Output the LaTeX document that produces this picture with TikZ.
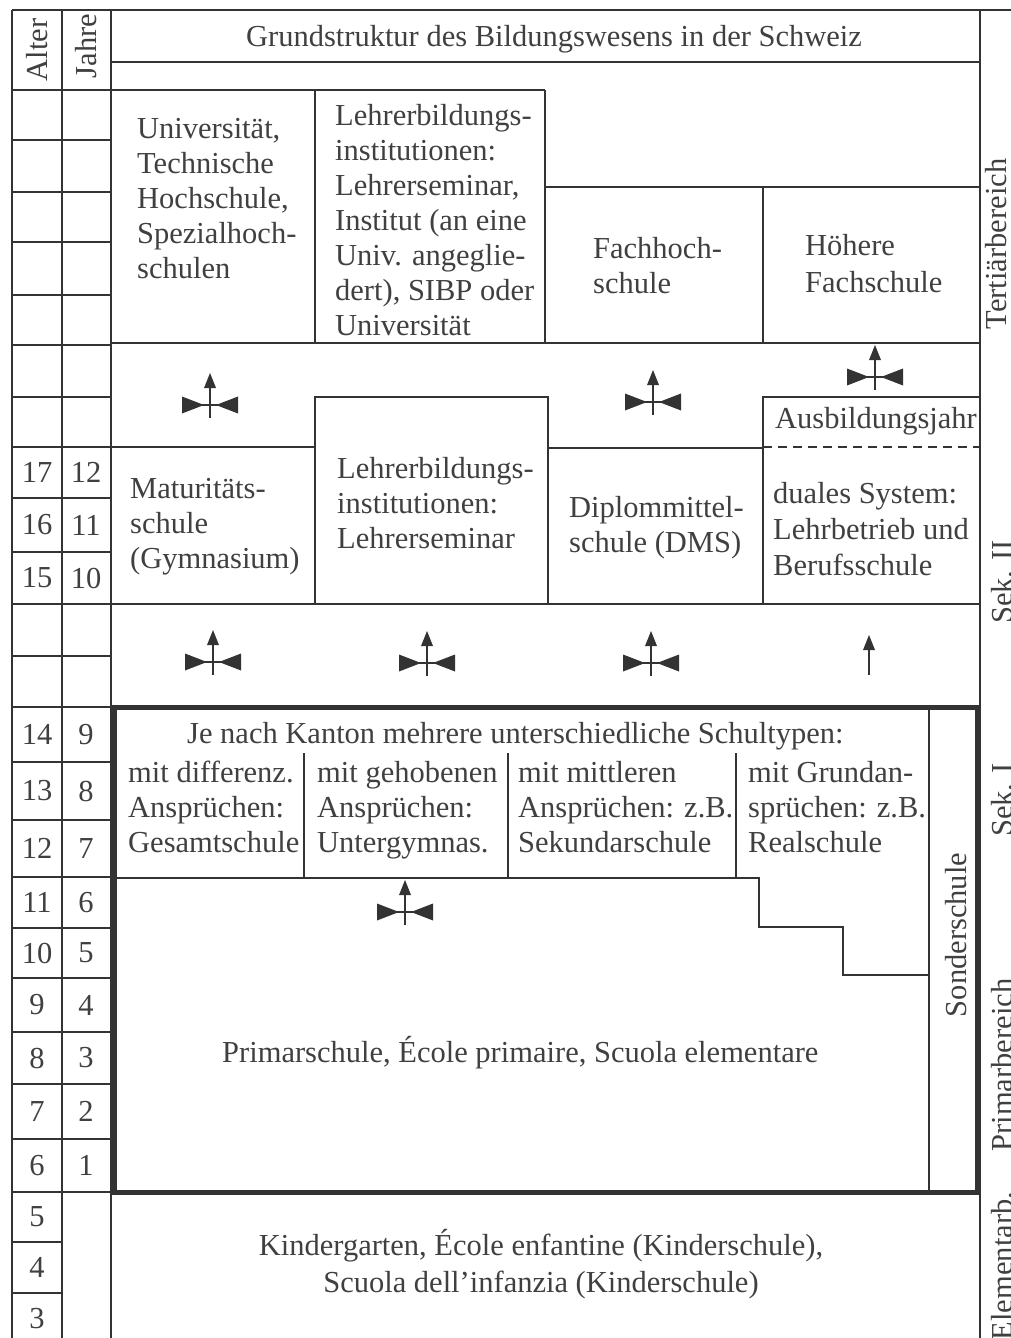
\documentclass[tikz,border=0pt]{standalone}
\usepackage{fontspec}
\setmainfont{Liberation Serif}
\definecolor{ink}{gray}{0.2}
\definecolor{print}{gray}{0.25}
% invisible strut that fixes the top of the first line in multi-line blocks
\newcommand\firstline{\rule{0pt}{28pt}}
\begin{document}
\begin{tikzpicture}[x=1pt,y=-1pt,
  gridline/.style={draw=ink, line width=1.4pt},
  heavy/.style={draw=ink, line width=5pt},
  txt/.style={font=\fontsize{30.5}{35}\selectfont, text=print, inner sep=0pt},
  block/.style={txt, align=left, anchor=north west},
  oneline/.style={txt, anchor=base west},
  num/.style={txt, anchor=center},
  vtxt/.style={txt, rotate=90, anchor=center},
  sidelabel/.style={txt, rotate=90, anchor=north},
  switchmark/.pic={
    \draw[ink, line width=1.4pt] (0,13) -- (0,-18);
    \fill[ink] (0,-32) -- (-6,-17) -- (6,-17) -- cycle;
    \fill[ink] (-28,-8.5) -- (-28,8.5) -- (-6,0) -- cycle;
    \fill[ink] (28,-8.5) -- (28,8.5) -- (6,0) -- cycle;
    \draw[ink, line width=1.4pt] (-8,0) -- (8,0);
  },
  arrowmark/.pic={
    \draw[ink, line width=1.4pt] (0,20) -- (0,-6);
    \fill[ink] (0,-20) -- (-6,-5) -- (6,-5) -- cycle;
  }
]
\fill[white] (0,0) rectangle (1011,1338);
\useasboundingbox (0,0) rectangle (1011,1338);

% ---- outer frame and the two year columns
\draw[gridline] (12,10) -- (1016,10);
\foreach \x in {12,62,111,980} \draw[gridline] (\x,10) -- (\x,1345);
\draw[gridline] (111,62) -- (980,62);
\draw[gridline] (12,90) -- (545,90);
\foreach \y in {140,192,242,295,345,397,447,498,552,604,656,707,762,820,877,928,978,1032,1084,1139,1192}
  \draw[gridline] (12,\y) -- (111,\y);
\foreach \y in {1242,1293} \draw[gridline] (12,\y) -- (62,\y);

% ---- tertiary level
\draw[gridline] (315,90) -- (315,343);
\draw[gridline] (545,90) -- (545,343);
\draw[gridline] (545,187) -- (980,187);
\draw[gridline] (763,187) -- (763,343);
\draw[gridline] (111,343) -- (980,343);

% ---- upper secondary level
\draw[gridline] (111,447) -- (315,447);
\draw[gridline] (315,604) -- (315,397) -- (548,397) -- (548,604);
\draw[gridline] (548,448) -- (763,448);
\draw[gridline] (763,604) -- (763,397) -- (980,397);
\draw[gridline, dash pattern=on 9pt off 6pt] (763,447) -- (980,447);
\draw[gridline] (111,604) -- (980,604);

% ---- compulsory school block
\draw[gridline] (929,707) -- (929,1192);
\foreach \x in {304,508,736} \draw[gridline] (\x,753) -- (\x,878);
\draw[gridline] (114,878) -- (759,878) -- (759,927) -- (843,927) -- (843,975) -- (929,975);
\draw[heavy] (114.5,707) rectangle (977,1192);

% ---- transition marks
\pic (t1) at (210,405) {switchmark};
\pic (t2) at (653,402) {switchmark};
\pic (t3) at (875,377) {switchmark};
\pic (s1) at (213,662) {switchmark};
\pic (s2) at (427,663) {switchmark};
\pic (s3) at (651,663) {switchmark};
\pic (s4) at (869,655) {arrowmark};
\pic (p1) at (405,912) {switchmark};

% ---- header
\node[txt, anchor=base] (title) at (554,47) {Grundstruktur des Bildungswesens in der Schweiz};
\node[vtxt] (alter) at (37,50) {Alter};
\node[vtxt] (jahre) at (86,46) {Jahre};

% ---- age and school-year numbers
\foreach \a/\t/\b in {17/447/498,16/498/552,15/552/604,14/707/762,13/762/820,12/820/877,
    11/877/928,10/928/978,9/978/1032,8/1032/1084,7/1084/1139,6/1139/1192,5/1192/1242,4/1242/1293,3/1293/1345}
  \node[num] (age\a) at (37,{(\t+\b)/2}) {\a};
\foreach \j/\t/\b in {12/447/498,11/498/552,10/552/604,9/707/762,8/762/820,7/820/877,
    6/877/928,5/928/978,4/978/1032,3/1032/1084,2/1084/1139,1/1139/1192}
  \node[num] (year\j) at (86,{(\t+\b)/2}) {\j};

% ---- tertiary institutions
\node[block] (uni) at (137,110) {\firstline Universität,\\Technische\\Hochschule,\\Spezialhoch-\\schulen};
\node[block] (lbi) at (335,97) {\firstline Lehrerbildungs-\\institutionen:\\Lehrerseminar,\\Institut (an eine\\Univ. angeglie-\\dert), SIBP oder\\Universität};
\node[block] (fh) at (593,230) {\firstline Fachhoch-\\schule};
\node[block] (hfs) at (805,227) {\firstline Höhere\\[2pt]Fachschule};

% ---- upper secondary schools
\node[block] (mat) at (130,470) {\firstline Maturitäts-\\schule\\(Gymnasium)};
\node[block] (lsem) at (337,450) {\firstline Lehrerbildungs-\\institutionen:\\Lehrerseminar};
\node[block] (dms) at (569,489) {\firstline Diplommittel-\\schule (DMS)};
\node[oneline] (ausb) at (775,428) {Ausbildungsjahr};
\node[block] (dual) at (773,475) {\firstline duales System:\\[1pt]Lehrbetrieb und\\[1pt]Berufsschule};

% ---- lower secondary schools
\node[oneline] (kanton) at (187,743) {Je nach Kanton mehrere unterschiedliche Schultypen:};
\node[block] (ges) at (128,754) {\firstline mit differenz.\\Ansprüchen:\\Gesamtschule};
\node[block] (ugym) at (317,754) {\firstline mit gehobenen\\Ansprüchen:\\Untergymnas.};
\node[block] (sek) at (518,754) {\firstline mit mittleren\\Ansprüchen: z.B.\\Sekundarschule};
\node[block] (real) at (748,754) {\firstline mit Grundan-\\sprüchen: z.B.\\Realschule};
\node[vtxt] (sonder) at (956,935) {Sonderschule};

% ---- primary and pre-school
\node[oneline] (prim) at (222,1062) {Primarschule, École primaire, Scuola elementare};
\node[txt, align=center, anchor=north] (kg) at (541,1227) {\firstline Kindergarten, École enfantine (Kinderschule),\\[2pt]Scuola dell’infanzia (Kinderschule)};

% ---- level names at the right margin
\node[sidelabel] (tert) at (985,244) {Tertiärbereich};
\node[sidelabel] (sek2) at (991,582) {Sek. II};
\node[sidelabel] (sek1) at (991,800) {Sek. I};
\node[sidelabel] (primb) at (991,1065) {Primarbereich};
\node[sidelabel] (elem) at (991,1266) {Elementarb.};
\end{tikzpicture}
\end{document}
